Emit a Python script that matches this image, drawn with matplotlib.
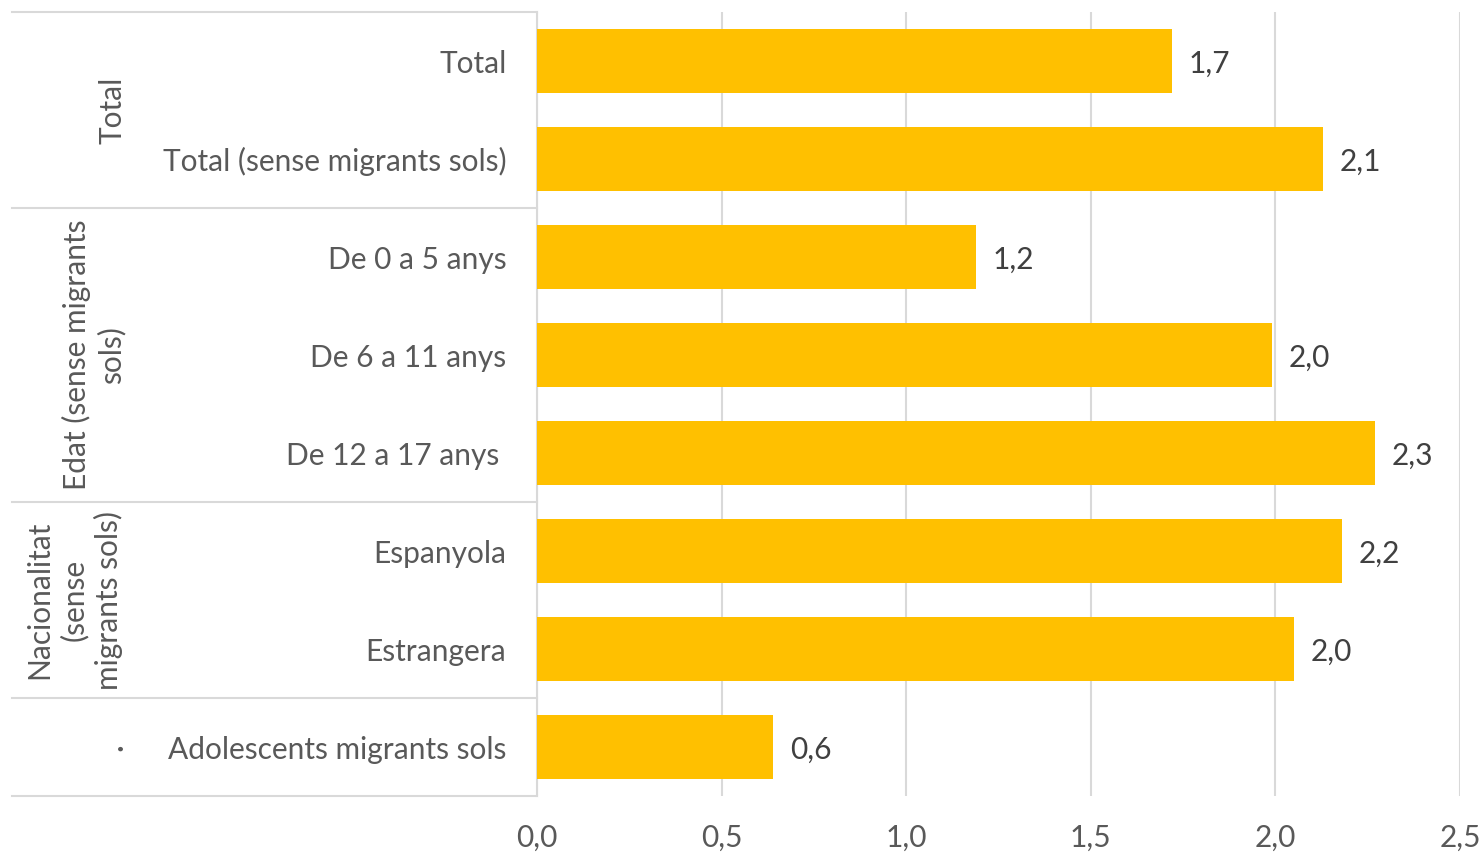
import matplotlib
matplotlib.use("Agg")
import matplotlib.pyplot as plt
from matplotlib.transforms import blended_transform_factory

categories = ["Total", "Total (sense migrants sols)", "De 0 a 5 anys", "De 6 a 11 anys",
              "De 12 a 17 anys ", "Espanyola", "Estrangera", "Adolescents migrants sols"]
values = [1.72, 2.13, 1.19, 1.99, 2.27, 2.18, 2.05, 0.64]
value_labels = ["1,7", "2,1", "1,2", "2,0", "2,3", "2,2", "2,0", "0,6"]
groups = ["Total", "Edat (sense migrants\nsols)", "Nacionalitat\n(sense\nmigrants sols)", "·"]
group_spans = [(0, 1), (2, 4), (5, 6), (7, 7)]
xticks = [0.0, 0.5, 1.0, 1.5, 2.0, 2.5]
xtick_labels = ["0,0", "0,5", "1,0", "1,5", "2,0", "2,5"]

FONT = "Lato"
FS = 21.5
TXT = "#595959"
GRID = "#D9D9D9"

W, H = 1484, 852
fig = plt.figure(figsize=(W / 100, H / 100), dpi=100)
ax = fig.add_axes([537 / W, 1 - 796 / H, (1460 - 537) / W, (796 - 12) / H])

ypos = list(range(len(categories)))
ax.barh(ypos, values, height=0.65, color="#FFC000", zorder=3)
ax.set_ylim(7.5, -0.5)
ax.set_xlim(0, 2.5)
ax.set_xticks(xticks)
ax.set_xticklabels(xtick_labels, fontsize=FS, color=TXT, family=FONT)
ax.tick_params(axis="x", length=0, pad=20)
ax.set_yticks(ypos)
ax.set_yticklabels(categories, fontsize=FS, color=TXT, family=FONT)
ax.tick_params(axis="y", length=0, pad=22)
ax.grid(axis="x", color=GRID, linewidth=1.5, zorder=0)
for s in ["top", "right", "bottom"]:
    ax.spines[s].set_visible(False)
ax.spines["left"].set_color(GRID)
ax.spines["left"].set_linewidth(1.5)

for y, v, lab in zip(ypos, values, value_labels):
    ax.annotate(lab, (v, y), xytext=(12, 0), textcoords="offset points",
                va="center_baseline", ha="left", fontsize=FS, color="#404040", family=FONT)

trans = blended_transform_factory(ax.transAxes, ax.transData)
x0 = (12 - 537) / (1460 - 537)
bounds = [-0.5, 1.5, 4.5, 6.5, 7.5]
for b in bounds:
    ax.plot([x0, 0], [b, b], transform=trans, color=GRID, linewidth=1.5, clip_on=False)

gx = [(113 - 537) / (1460 - 537), (94 - 537) / (1460 - 537),
      (74 - 537) / (1460 - 537), (120 - 537) / (1460 - 537)]
for g, (a, b), x in zip(groups, group_spans, gx):
    ax.text(x, (a + b) / 2, g, transform=trans, rotation=90, ha="center", va="center",
            fontsize=FS, color=TXT, family=FONT, multialignment="center", linespacing=1.25)

fig.savefig("out.png", dpi=100, facecolor="white")
